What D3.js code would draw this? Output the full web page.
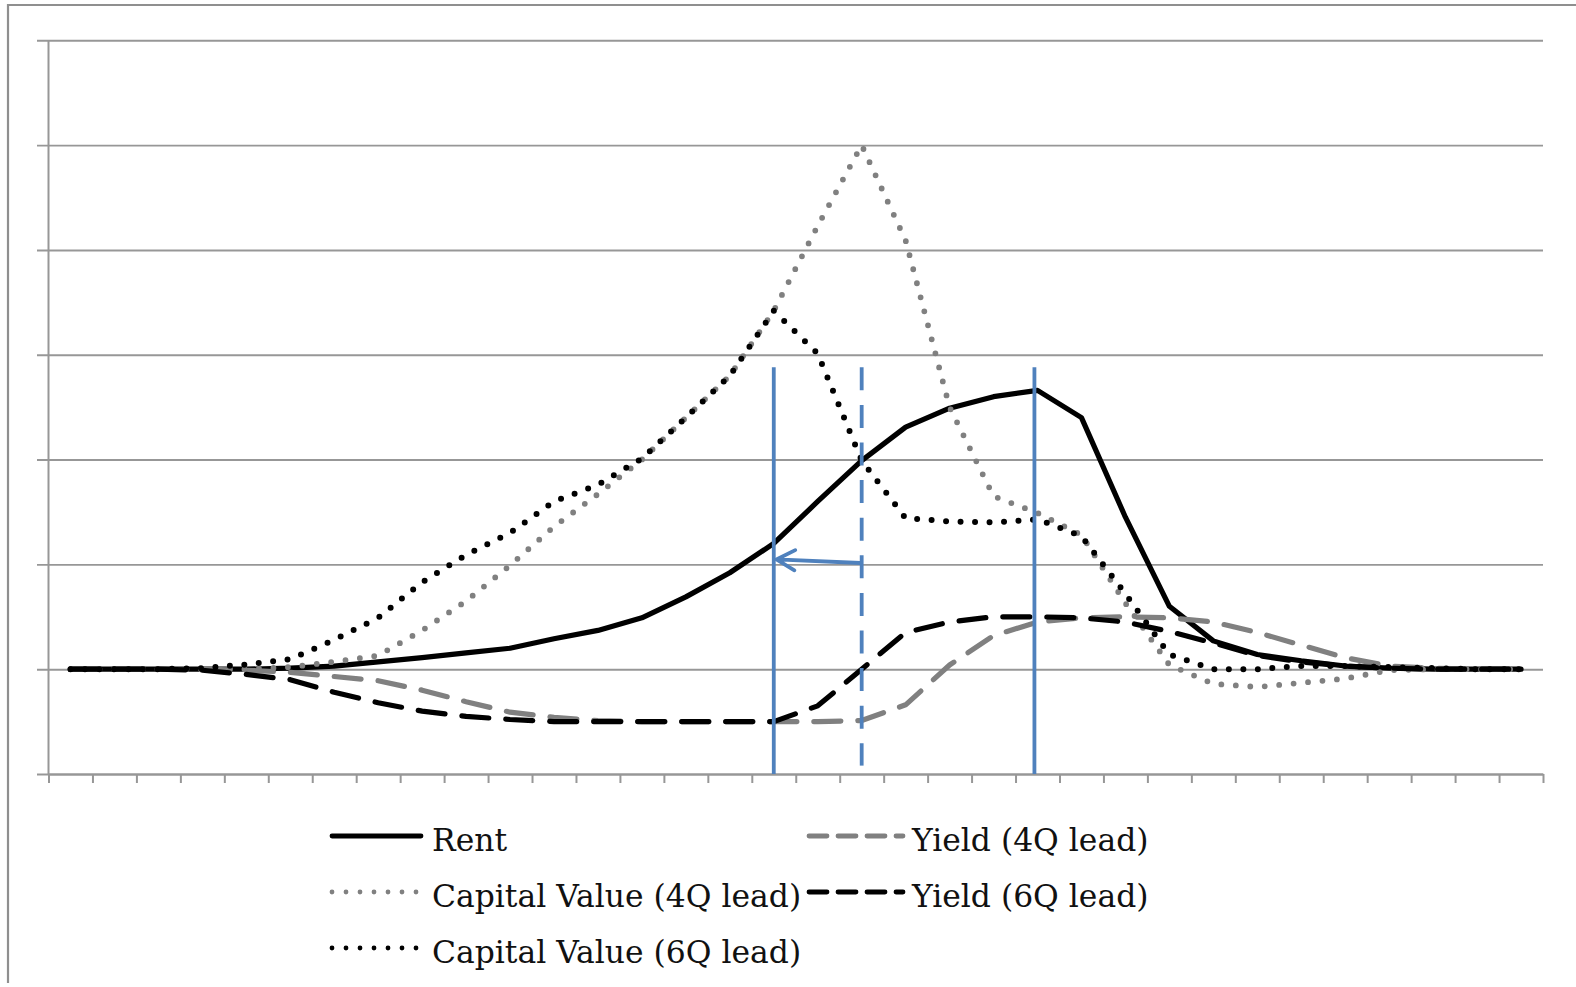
<!DOCTYPE html>
<html>
<head>
<meta charset="utf-8">
<script src="https://cdn.jsdelivr.net/npm/d3@7"></script>
<style>
  html, body { margin: 0; padding: 0; background: #ffffff; }
  svg { display: block; }
</style>
</head>
<body>
<svg id="chart" width="1576" height="987"></svg>
<script>
// ---------------- data ----------------
const categories = [1,2,3,4,5,6,7,8,9,10,11,12,13,14,15,16,17,18,19,20,21,22,23,24,25,26,27,28,29,30,31,32,33,34];

const rent       = [0,0,0,0,0,0.01,0.03,0.07,0.11,0.155,0.20,0.29,0.37,0.49,0.69,0.92,1.20,1.60,1.99,2.31,2.49,2.60,2.66,2.40,1.45,0.60,0.27,0.14,0.08,0.03,0.01,0,0,0];
const yield4Q    = [0,0,0,0,-0.01,-0.03,-0.07,-0.11,-0.20,-0.31,-0.41,-0.46,-0.49,-0.50,-0.50,-0.50,-0.50,-0.50,-0.49,-0.34,0.04,0.32,0.45,0.49,0.50,0.49,0.45,0.35,0.23,0.11,0.03,0.01,0,0];
const capValue4Q = [0,0,0,0,0,0.02,0.07,0.13,0.37,0.65,0.99,1.36,1.67,2.00,2.40,2.80,3.42,4.23,5.00,4.09,2.50,1.65,1.49,1.28,0.63,0.04,-0.14,-0.17,-0.13,-0.09,-0.01,0,0,0];
const yield6Q    = [0,0,0,-0.01,-0.05,-0.10,-0.22,-0.32,-0.40,-0.45,-0.48,-0.50,-0.50,-0.50,-0.50,-0.50,-0.50,-0.35,0.00,0.35,0.45,0.50,0.50,0.49,0.45,0.36,0.25,0.13,0.07,0.03,0.01,0,0,0];
const capValue6Q = [0,0,0,0.01,0.045,0.095,0.28,0.49,0.83,1.09,1.30,1.60,1.76,2.01,2.40,2.80,3.42,3.01,1.99,1.44,1.41,1.40,1.43,1.27,0.72,0.14,0.0,0.0,0.03,0.03,0.02,0.01,0,0];

const seriesNames = ["Rent", "Yield (4Q lead)", "Capital Value (4Q lead)", "Yield (6Q lead)", "Capital Value (6Q lead)"];
const yTickValues = [-1, 0, 1, 2, 3, 4, 5, 6];

// annotation positions (category index, value units)
const markerSolid  = [16, 21.93];
const markerDashed = [18];
const markerTop = 2.88;
const markerDashedBottom = -0.92;
const arrowFrom = { i: 17.97, v: 1.013 };
const arrowTo   = { i: 16.06, v: 1.047 };

(function () {
// ---------------- layout ----------------
const svg = d3.select("#chart");
const pLeft = 48.5, pRight = 1543, pTop = 40.3, pBottom = 774;
const gridLeft = 37;
const gridColor = "#979797";

const x = d3.scaleLinear().domain([0, categories.length]).range([pLeft, pRight]);
const cx = i => x(i + 0.5);
const y = d3.scaleLinear().domain([-1, 6]).range([pBottom, pTop]);

// outer frame (left + top edges visible)
svg.append("path")
  .attr("d", `M8,983 L8,5 L1580,5`)
  .attr("fill", "none").attr("stroke", "#8f8f8f").attr("stroke-width", 2.2);

// horizontal gridlines (including y tick marks left of the axis)
const gy = svg.append("g").attr("transform", `translate(${gridLeft},0)`)
  .call(d3.axisLeft(y).tickValues(yTickValues).tickSizeInner(-(pRight - gridLeft)).tickSizeOuter(0).tickFormat(""));
gy.select(".domain").remove();
gy.selectAll(".tick line").attr("stroke", gridColor).attr("stroke-width", 1.9);

// y axis line
svg.append("line").attr("x1", pLeft).attr("x2", pLeft).attr("y1", pTop).attr("y2", pBottom)
  .attr("stroke", gridColor).attr("stroke-width", 2);

// x axis with category boundary ticks
const tickIdx = categories.map((c, i) => i).concat([categories.length]);
const gx = svg.append("g").attr("transform", `translate(0,${pBottom})`)
  .call(d3.axisBottom(x).tickValues(tickIdx).tickSizeInner(9).tickSizeOuter(0).tickFormat(""));
gx.select(".domain").attr("stroke", gridColor).attr("stroke-width", 2);
gx.selectAll(".tick line").attr("stroke", gridColor).attr("stroke-width", 2);

// ---------------- series ----------------
const series = [
  { name: seriesNames[0], values: rent,       color: "#000000", width: 5.2, dash: null,     legendDash: null },
  { name: seriesNames[1], values: yield4Q,    color: "#808080", width: 5.2, dash: "27,17",  legendDash: "18,11" },
  { name: seriesNames[2], values: capValue4Q, color: "#808080", width: 5.8, dash: "0,14.5", legendDash: "0,14" },
  { name: seriesNames[3], values: yield6Q,    color: "#000000", width: 5.2, dash: "27,17",  legendDash: "18,11" },
  { name: seriesNames[4], values: capValue6Q, color: "#000000", width: 6,   dash: "0,14.5", legendDash: "0,14" }
];

const line = d3.line().x((d, i) => cx(i)).y(d => y(d)).curve(d3.curveLinear);

svg.append("g").selectAll("path").data(series).join("path")
  .attr("d", d => line(d.values))
  .attr("fill", "none")
  .attr("stroke", d => d.color)
  .attr("stroke-width", d => d.width)
  .attr("stroke-dasharray", d => d.dash)
  .attr("stroke-linecap", "round")
  .attr("stroke-linejoin", "round");

// ---------------- annotations ----------------
const blue = "#4f81bd";
const ann = svg.append("g");
ann.selectAll("line.solid").data(markerSolid).join("line").attr("class", "solid")
  .attr("x1", d => cx(d)).attr("x2", d => cx(d))
  .attr("y1", y(markerTop)).attr("y2", y(-1))
  .attr("stroke", blue).attr("stroke-width", 3.8);
ann.selectAll("line.dashed").data(markerDashed).join("line").attr("class", "dashed")
  .attr("x1", d => cx(d)).attr("x2", d => cx(d))
  .attr("y1", y(markerTop)).attr("y2", y(markerDashedBottom))
  .attr("stroke", blue).attr("stroke-width", 3.8).attr("stroke-dasharray", "23,14.6");

const ax0 = cx(arrowFrom.i), ay0 = y(arrowFrom.v), ax1 = cx(arrowTo.i), ay1 = y(arrowTo.v);
const ang = Math.atan2(ay0 - ay1, ax0 - ax1);
const headLen = 21, headAng = 0.5;
const h1 = [ax1 + headLen * Math.cos(ang - headAng), ay1 + headLen * Math.sin(ang - headAng)];
const h2 = [ax1 + headLen * Math.cos(ang + headAng), ay1 + headLen * Math.sin(ang + headAng)];
ann.append("path")
  .attr("d", `M${ax0},${ay0} L${ax1},${ay1} M${h1[0]},${h1[1]} L${ax1},${ay1} L${h2[0]},${h2[1]}`)
  .attr("fill", "none").attr("stroke", blue).attr("stroke-width", 3.8)
  .attr("stroke-linecap", "round").attr("stroke-linejoin", "round");

// ---------------- legend ----------------
const legendPos = [
  { x1: 330, x2: 423, tx: 432, ly: 836 },
  { x1: 807, x2: 905, tx: 912, ly: 836 },
  { x1: 330, x2: 423, tx: 432, ly: 892 },
  { x1: 807, x2: 905, tx: 912, ly: 892 },
  { x1: 330, x2: 423, tx: 432, ly: 948 }
];
const lg = svg.append("g").selectAll("g").data(series).join("g");
lg.append("line")
  .attr("x1", (d, i) => legendPos[i].x1 + 2).attr("x2", (d, i) => legendPos[i].x2 - 2)
  .attr("y1", (d, i) => legendPos[i].ly).attr("y2", (d, i) => legendPos[i].ly)
  .attr("stroke", d => d.color)
  .attr("stroke-width", 4.8)
  .attr("stroke-dasharray", d => d.legendDash)
  .attr("stroke-linecap", "round");
lg.append("text")
  .attr("x", (d, i) => legendPos[i].tx)
  .attr("y", (d, i) => legendPos[i].ly + 15)
  .attr("font-family", "'DejaVu Serif', serif")
  .attr("font-size", 31.4)
  .attr("fill", "#111")
  .text(d => d.name);
})();
</script>
</body>
</html>
